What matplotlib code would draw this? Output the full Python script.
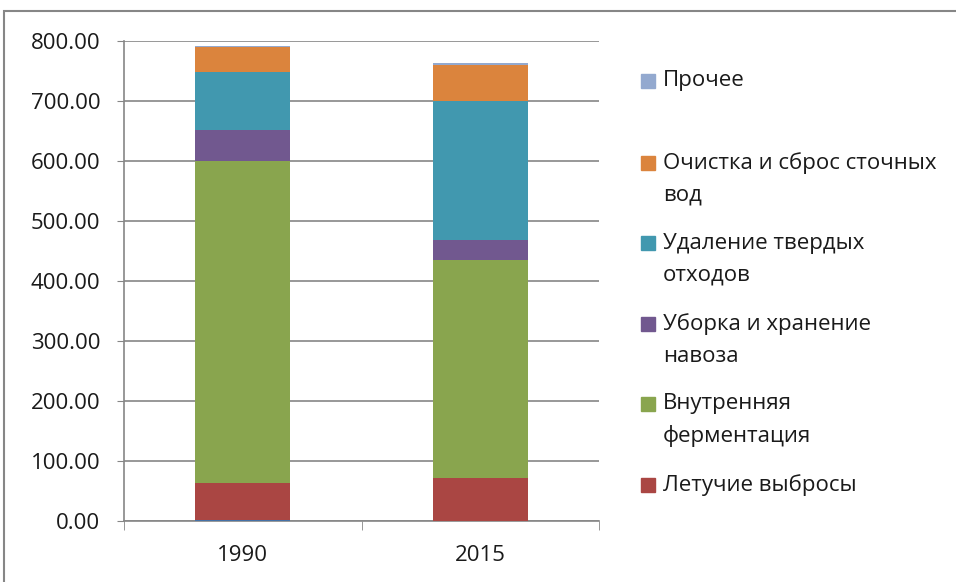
import matplotlib
matplotlib.use("Agg")
import matplotlib.pyplot as plt
from matplotlib.patches import Rectangle

# data
years = ["1990", "2015"]
series_names = [
    "",  # thin unnamed series at the very bottom of 1990
    "Летучие выбросы",
    "Внутренняя\nферментация",
    "Уборка и хранение\nнавоза",
    "Удаление твердых\nотходов",
    "Очистка и сброс сточных\nвод",
    "Прочее",
]
unnamed = [1.5, 0.0]
fugitive = [62.0, 71.0]
enteric = [537.0, 363.5]
manure = [52.0, 34.5]
solid_waste = [96.0, 231.0]
wastewater = [41.0, 60.0]
other = [1.5, 4.0]
colors = ["#4572A7", "#AA4643", "#89A54E", "#71588F", "#4198AF", "#DB843D", "#93A9CF"]

values = [unnamed, fugitive, enteric, manure, solid_waste, wastewater, other]

plt.rcParams["font.family"] = ["Open Sans", "DejaVu Sans"]
FS = 16
TXT = "#1a1a1a"

fig = plt.figure(figsize=(9.56, 5.82), dpi=100)
W, H = 956, 582
ax = fig.add_axes([124 / W, 1 - 521 / H, (599 - 124) / W, (521 - 41) / H])

x = [0, 1]
bottom = [0.0, 0.0]
for vals, col in zip(values, colors):
    ax.bar(x, vals, width=0.4, bottom=bottom, color=col, edgecolor="none", zorder=3)
    bottom = [b + v for b, v in zip(bottom, vals)]

ax.set_xlim(-0.5, 1.5)
ax.set_ylim(0, 800)
ax.set_yticks(range(0, 801, 100))
ax.set_yticklabels([f"{v:.2f}" for v in range(0, 801, 100)], fontsize=FS, color=TXT)
ax.set_xticks(x)
ax.set_xticklabels(years, fontsize=FS, color=TXT)
ax.set_xticks([-0.5, 0.5, 1.5], minor=True)
ax.tick_params(axis="x", which="major", length=0, pad=17)
ax.tick_params(axis="x", which="minor", length=6.5, color="#868686")
ax.tick_params(axis="y", length=5, color="#868686", pad=12)
ax.grid(axis="y", color="#868686", linewidth=1.2, zorder=0)
for side in ("top", "right"):
    ax.spines[side].set_visible(False)
for side in ("left", "bottom"):
    ax.spines[side].set_color("#868686")
    ax.spines[side].set_linewidth(1.2)

# legend, drawn by hand to match spacing (top entry = last series)
legend_y = [81, 163, 243, 324, 404, 485]
for i, y in enumerate(legend_y):
    k = len(series_names) - 1 - i
    fig.patches.append(Rectangle((641 / W, 1 - (y + 7) / H), 14 / W, 14 / H,
                                 transform=fig.transFigure, color=colors[k]))
    for j, line in enumerate(series_names[k].split("\n")):
        fig.text(663 / W, 1 - (y + 32 * j) / H, line, fontsize=FS, color=TXT,
                 va="center", ha="left")

# chart-area border
fig.patches.append(Rectangle((4 / W, -0.05), 1.1, 1 - 11 / H + 0.05, transform=fig.transFigure,
                             fill=False, edgecolor="#868686", linewidth=1.5))

fig.savefig("out.png", dpi=100)
